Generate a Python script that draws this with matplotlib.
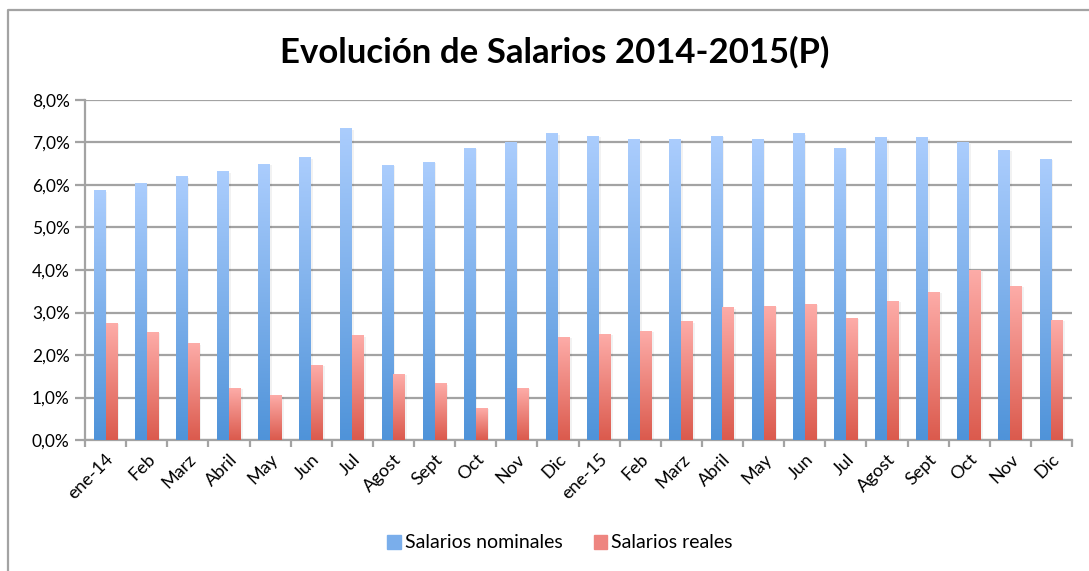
import numpy as np
import matplotlib
matplotlib.use("Agg")
import matplotlib.pyplot as plt
from matplotlib.colors import LinearSegmentedColormap
from matplotlib.lines import Line2D
from matplotlib.patches import Patch
from matplotlib.ticker import FuncFormatter, MultipleLocator

plt.rcParams['font.family'] = ['Lato', 'DejaVu Sans']

meses = ['ene-14', 'Feb', 'Marz', 'Abril', 'May', 'Jun', 'Jul', 'Agost', 'Sept', 'Oct', 'Nov', 'Dic',
         'ene-15', 'Feb', 'Marz', 'Abril', 'May', 'Jun', 'Jul', 'Agost', 'Sept', 'Oct', 'Nov', 'Dic']
nominales = [5.86, 6.04, 6.20, 6.31, 6.49, 6.64, 7.32, 6.47, 6.54, 6.87, 7.01, 7.20,
             7.15, 7.08, 7.08, 7.15, 7.08, 7.20, 6.87, 7.11, 7.11, 6.99, 6.82, 6.61]
reales = [2.75, 2.54, 2.26, 1.22, 1.04, 1.76, 2.45, 1.55, 1.32, 0.75, 1.22, 2.42,
          2.49, 2.56, 2.78, 3.11, 3.15, 3.20, 2.87, 3.27, 3.48, 3.98, 3.62, 2.82]

azul = LinearSegmentedColormap.from_list('azul', ['#4f93d9', '#abcdfd'])
rojo = LinearSegmentedColormap.from_list('rojo', ['#db5a4d', '#fdaca8'])
grad = np.linspace(0, 1, 256).reshape(-1, 1)

fig = plt.figure(figsize=(10.89, 5.71), dpi=100)
ax = fig.add_axes([85 / 1089, 131 / 571, 987 / 1089, 340 / 571])

x = np.arange(len(meses))
w = 0.29
b1 = ax.bar(x - w / 2, nominales, w, color='none', edgecolor='none')
b2 = ax.bar(x + w / 2, reales, w, color='none', edgecolor='none')

# gradient fill + light shadow per bar
for bars, cmap in ((b1, azul), (b2, rojo)):
    for r in bars:
        x0, h, bw = r.get_x(), r.get_height(), r.get_width()
        ax.add_patch(plt.Rectangle((x0 + 0.04, 0), bw, h - 0.03, color='k', alpha=0.05,
                                   lw=0, zorder=2))
        ax.imshow(grad, extent=[x0, x0 + bw, 0, h], origin='lower', cmap=cmap,
                  aspect='auto', zorder=3)

ax.set_xlim(-0.5, len(meses) - 0.5)
ax.set_ylim(0, 8)
ax.yaxis.set_major_locator(MultipleLocator(1))
ax.yaxis.set_major_formatter(FuncFormatter(lambda v, p: f'{v:.1f}%'.replace('.', ',')))
ax.grid(axis='y', color='#a3a3a3', lw=1.6)
ax.set_axisbelow(True)

ax.set_xticks(x)
ax.set_xticklabels(meses, rotation=45, ha='right', rotation_mode='anchor', fontsize=13)
ax.set_xticks(np.arange(len(meses) + 1) - 0.5, minor=True)
ax.tick_params(axis='x', which='major', length=0, pad=8)
ax.tick_params(axis='x', which='minor', length=5, width=1.6, color='#a3a3a3')
ax.tick_params(axis='y', length=7, width=1.6, color='#a3a3a3', labelsize=12.5, pad=4)

for s in ('top', 'right'):
    ax.spines[s].set_visible(False)
for s in ('left', 'bottom'):
    ax.spines[s].set_color('#a3a3a3')
    ax.spines[s].set_linewidth(1.6)

fig.text(555 / 1089, 1 - 52 / 571, 'Evolución de Salarios 2014-2015(P)', ha='center', va='center',
         fontsize=25, fontweight='bold')

handles = [Patch(color='#7aaeeb', label='Salarios nominales'),
           Patch(color='#ee8580', label='Salarios reales')]
fig.legend(handles=handles, loc='center', bbox_to_anchor=(560 / 1089, 1 - 543 / 571), ncol=2,
           frameon=False, fontsize=14, handlelength=0.7, handleheight=0.7, handletextpad=0.2,
           columnspacing=1.6)

# outer chart frame (cropped: only top and left visible)
fig.add_artist(Line2D([8, 8, 1089], [0, 561, 561], transform=None, color='#a3a3a3', lw=1.6))

fig.savefig('out.png', dpi=100)
